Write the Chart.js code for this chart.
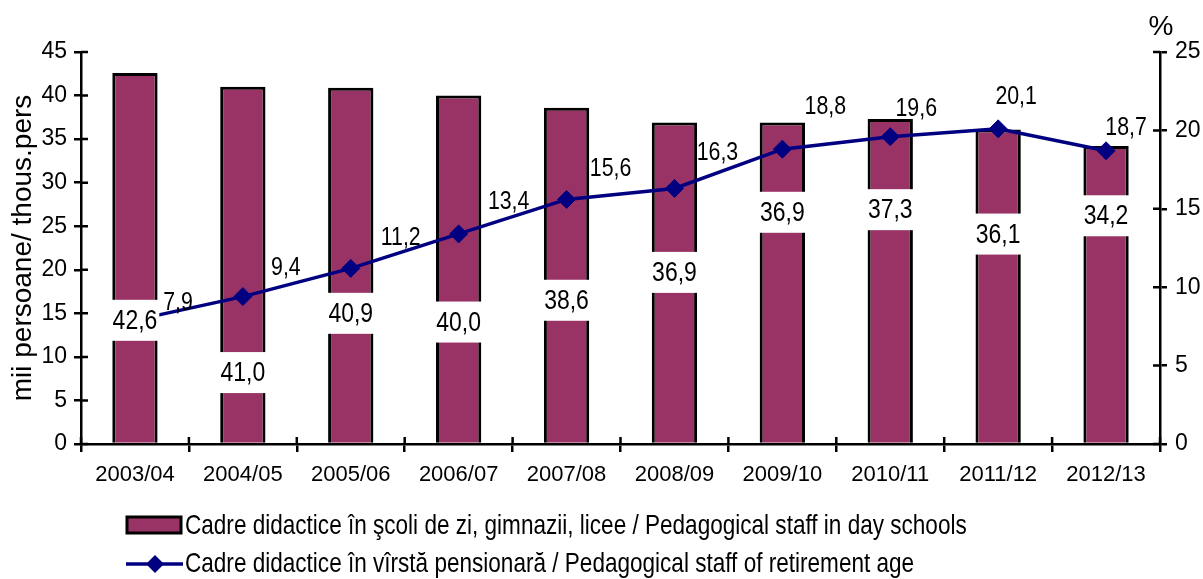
<!DOCTYPE html>
<html>
<head>
<meta charset="utf-8">
<script src="https://cdn.jsdelivr.net/npm/chart.js@4.4.1/dist/chart.umd.min.js"></script>
<style>
  html, body { margin: 0; padding: 0; background: #fff; }
  #wrap { width: 1203px; height: 579px; }
</style>
</head>
<body>
<div id="wrap"><canvas id="staff-chart" width="1203" height="579"></canvas></div>
<script>
const years = ["2003/04", "2004/05", "2005/06", "2006/07", "2007/08", "2008/09", "2009/10", "2010/11", "2011/12", "2012/13"];
const staffDaySchools = [42.6, 41.0, 40.9, 40.0, 38.6, 36.9, 36.9, 37.3, 36.1, 34.2];
const staffRetirementAge = [7.9, 9.4, 11.2, 13.4, 15.6, 16.3, 18.8, 19.6, 20.1, 18.7];
const leftTicks = [0, 5, 10, 15, 20, 25, 30, 35, 40, 45];
const rightTicks = [0, 5, 10, 15, 20, 25];

const barName = "Cadre didactice în şcoli de zi, gimnazii, licee / Pedagogical staff in day schools";
const lineName = "Cadre didactice în vîrstă pensionară / Pedagogical staff of retirement age";

// where the labels were dragged to in the original (bar labels: left axis units, line labels: px shift)
const barLabelAt = [14.2, 8.2, 15.0, 14.0, 16.5, 19.7, 26.6, 26.9, 24.1, 26.2];
const lineLabelShift = [[43, -17], [43, -29], [50, -31], [50, -32], [44, -31], [43, -36], [43, -42], [26, -28], [18, -32], [20, -23]];

const FONT = "'Liberation Sans', Arial, sans-serif";
const SQUEEZE = 0.82; // no narrow face installed, so squeeze the regular one
const PLUM = "#993366";
const NAVY = "#000080";

const fmt = (v) => v.toFixed(1).replace(".", ",");

function narrowText(ctx, txt, x, y) {
  ctx.save();
  ctx.translate(x, y);
  ctx.scale(SQUEEZE, 1);
  ctx.fillText(txt, 0, 0);
  ctx.restore();
}

const extras = {
  id: "extras",
  afterDatasetsDraw(chart) {
    const { ctx, scales } = chart;
    const x = scales.x, y = scales.y, y1 = scales.y1;
    ctx.save();
    // tick marks crossing the axes
    ctx.strokeStyle = "#000";
    ctx.lineWidth = 2.5;
    ctx.beginPath();
    for (let i = 0; i <= years.length; i++) {
      const px = x.getPixelForValue(i - 0.5);
      ctx.moveTo(px, x.top);
      ctx.lineTo(px, x.top - 7);
    }
    leftTicks.forEach((v) => {
      const py = y.getPixelForValue(v);
      ctx.moveTo(y.right, py);
      ctx.lineTo(y.right + 7, py);
    });
    rightTicks.forEach((v) => {
      const py = y1.getPixelForValue(v);
      ctx.moveTo(y1.left, py);
      ctx.lineTo(y1.left - 7, py);
    });
    ctx.stroke();

    ctx.textAlign = "center";
    ctx.textBaseline = "middle";

    // bar value boxes
    ctx.font = "28px " + FONT;
    chart.getDatasetMeta(0).data.forEach((bar, i) => {
      const txt = fmt(staffDaySchools[i]);
      const w = ctx.measureText(txt).width * SQUEEZE + 4;
      const cy = y.getPixelForValue(barLabelAt[i]);
      ctx.fillStyle = "#fff";
      ctx.fillRect(bar.x - w / 2, cy - 20.5, w, 41);
      ctx.fillStyle = "#000";
      narrowText(ctx, txt, bar.x, cy + 1);
    });

    // line value labels
    ctx.font = "26px " + FONT;
    ctx.fillStyle = "#000";
    chart.getDatasetMeta(1).data.forEach((pt, i) => {
      narrowText(ctx, fmt(staffRetirementAge[i]), pt.x + lineLabelShift[i][0], pt.y + lineLabelShift[i][1]);
    });
    ctx.restore();
  },
  afterDraw(chart) {
    const { ctx, scales } = chart;
    ctx.save();
    ctx.fillStyle = "#000";
    ctx.font = "28px " + FONT;
    ctx.textAlign = "center";
    ctx.textBaseline = "middle";
    ctx.fillText("%", scales.y1.left + 1, 27);

    // legend
    ctx.font = "27.5px " + FONT;
    ctx.textAlign = "left";
    ctx.fillStyle = PLUM;
    ctx.fillRect(127, 517, 54, 16);
    ctx.strokeStyle = "#000";
    ctx.lineWidth = 3;
    ctx.strokeRect(127, 517, 54, 16);
    ctx.fillStyle = "#000";
    narrowText(ctx, barName, 185, 526);

    ctx.strokeStyle = NAVY;
    ctx.lineWidth = 3.5;
    ctx.beginPath();
    ctx.moveTo(126, 564);
    ctx.lineTo(183, 564);
    ctx.stroke();
    ctx.fillStyle = NAVY;
    ctx.beginPath();
    ctx.moveTo(155, 555);
    ctx.lineTo(164, 564);
    ctx.lineTo(155, 573);
    ctx.lineTo(146, 564);
    ctx.closePath();
    ctx.fill();
    ctx.fillStyle = "#000";
    narrowText(ctx, lineName, 185, 564);
    ctx.restore();
  },
};

new Chart(document.getElementById("staff-chart"), {
  type: "bar",
  data: {
    labels: years,
    datasets: [
      {
        label: barName,
        data: staffDaySchools,
        backgroundColor: PLUM,
        borderColor: "#000",
        borderWidth: 3,
        barPercentage: 0.42,
        categoryPercentage: 1,
        yAxisID: "y",
        order: 2,
      },
      {
        type: "line",
        label: lineName,
        data: staffRetirementAge,
        borderColor: NAVY,
        borderWidth: 3.5,
        pointStyle: "rectRot",
        pointRadius: 9,
        pointBackgroundColor: NAVY,
        pointBorderColor: NAVY,
        pointBorderWidth: 1,
        tension: 0,
        yAxisID: "y1",
        order: 1,
      },
    ],
  },
  options: {
    responsive: false,
    animation: false,
    layout: { padding: { top: 52, left: 0, right: 0, bottom: 90 } },
    plugins: {
      legend: { display: false },
      tooltip: { enabled: false },
    },
    scales: {
      x: {
        afterFit: (s) => { s.height = 45; },
        grid: { drawOnChartArea: false, color: "#000", lineWidth: 2.5, tickLength: 8 },
        border: { color: "#000", width: 2.5 },
        ticks: { color: "#000", font: { family: FONT, size: 22 }, padding: 10, maxRotation: 0 },
      },
      y: {
        position: "left",
        min: 0,
        max: 45,
        afterBuildTicks: (s) => { s.ticks = leftTicks.map((v) => ({ value: v })); },
        afterFit: (s) => { s.width = 81; },
        grid: { drawOnChartArea: false, color: "#000", lineWidth: 2.5, tickLength: 7 },
        border: { color: "#000", width: 2.5 },
        ticks: { color: "#000", font: { family: FONT, size: 23 }, padding: 7 },
        title: {
          display: true,
          text: "mii persoane/ thous.pers",
          color: "#000",
          font: { family: FONT, size: 28 },
          padding: { top: 6, bottom: 0 },
        },
      },
      y1: {
        position: "right",
        min: 0,
        max: 25,
        afterBuildTicks: (s) => { s.ticks = rightTicks.map((v) => ({ value: v })); },
        afterFit: (s) => { s.width = 43; },
        grid: { drawOnChartArea: false, color: "#000", lineWidth: 2.5, tickLength: 7 },
        border: { color: "#000", width: 2.5 },
        ticks: { color: "#000", font: { family: FONT, size: 23 }, padding: 8 },
      },
    },
  },
  plugins: [extras],
});
</script>
</body>
</html>
